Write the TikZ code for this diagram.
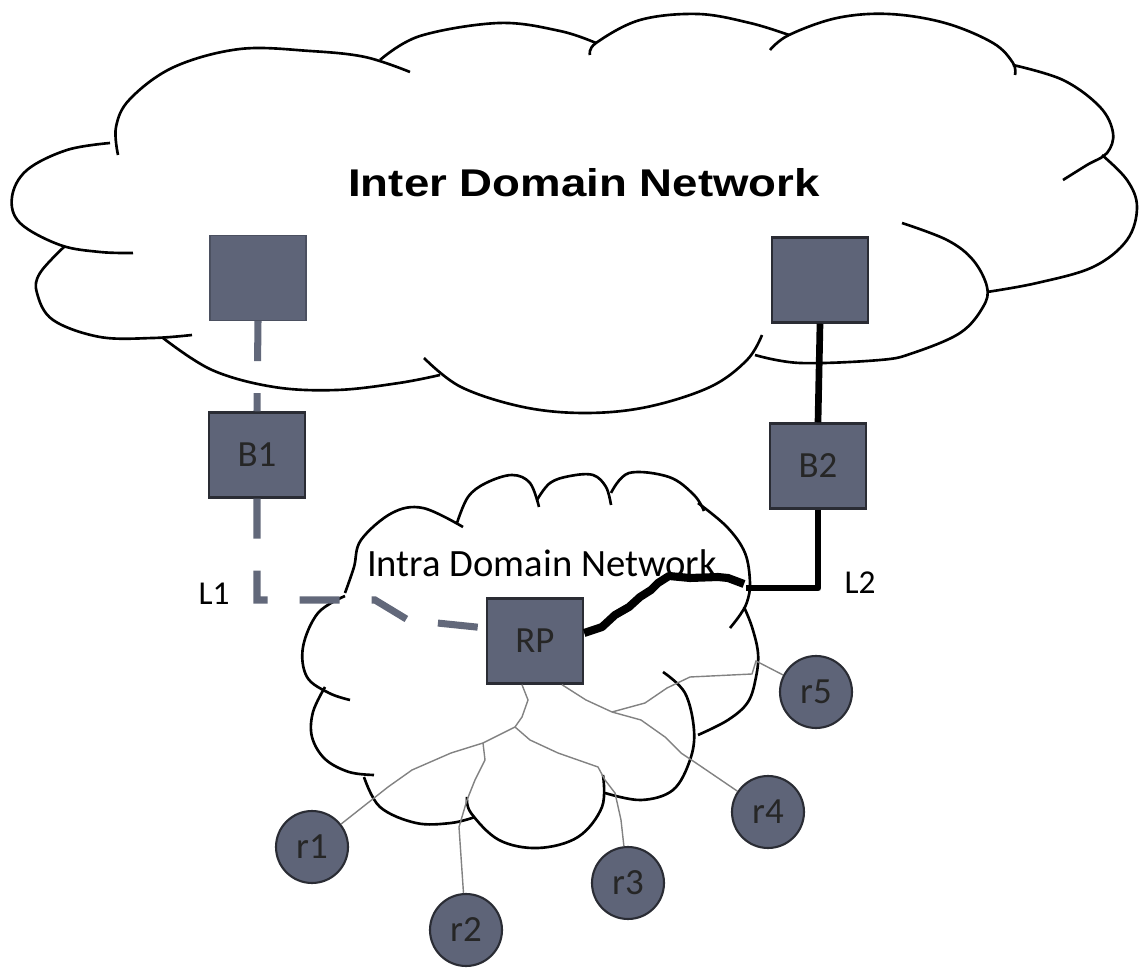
\documentclass[tikz,border=0pt]{standalone}
\usepackage{fontspec}
\setmainfont{Carlito}
\newfontfamily\interfont[FakeStretch=1.18]{Liberation Sans}
\usepackage{tikz}
\usetikzlibrary{arrows}
\usepackage{xcolor}
\definecolor{slate}{RGB}{94,100,120}
\definecolor{slateedge}{RGB}{42,44,52}
\definecolor{dashgray}{RGB}{98,104,122}
\definecolor{treegray}{RGB}{130,130,130}

\begin{document}
\begin{tikzpicture}[x=0.02cm,y=0.02cm]
	 \tikzstyle{router}=[rectangle,minimum width=1.92cm,minimum height=1.7cm,inner sep=0pt,fill=slate,draw=slateedge,line width=1.4pt,text=black!85,font=\fontsize{21}{25}\selectfont]
	 \tikzstyle{faded router}=[router,draw=slate!80!black,line width=0.8pt]
	 \tikzstyle{host}=[circle,minimum size=1.44cm,inner sep=0pt,fill=slate,draw=slateedge,line width=1.2pt,text=black!85,font=\fontsize{21}{25}\selectfont]
	 \tikzstyle{cloud line}=[draw,line width=1.5pt,black]
	 \tikzstyle{dashed link}=[draw,line width=4pt,dashgray,dash pattern=on 0.8cm off 0.64cm]
	 \tikzstyle{solid link}=[draw,line width=3.8pt,black,line join=round]
	 \tikzstyle{tree edge}=[draw,line width=0.8pt,treegray]
	 \tikzstyle{link label}=[font=\fontsize{19}{23}\selectfont]

	 \useasboundingbox (0,0) rectangle (1139,967);

	 % inter domain cloud
	 \draw[cloud line] plot[smooth,tension=0.6] coordinates {(118,812) (116,840) (130,868) (174,900) (240,918) (310,916) (365,910) (410,895)};
	 \draw[cloud line] plot[smooth,tension=0.6] coordinates {(380,907) (420,931) (499,944) (560,936) (596,924)};
	 \draw[cloud line] plot[smooth,tension=0.6] coordinates {(590,912) (596,924) (640,947) (698,953) (750,944) (789,932)};
	 \draw[cloud line] plot[smooth,tension=0.6] coordinates {(770,917) (789,932) (837,949) (889,953) (945,944) (993,924) (1013,904) (1015,892)};
	 \draw[cloud line] plot[smooth,tension=0.6] coordinates {(1013,902) (1063,887) (1100,860) (1113,834) (1107,814) (1087,802) (1063,787)};
	 \draw[cloud line] plot[smooth,tension=0.6] coordinates {(1102,812) (1127,787) (1137,760) (1127,727) (1093,700) (1037,684) (987,675)};
	 \draw[cloud line] plot[smooth,tension=0.6] coordinates {(902,744) (947,727) (973,707) (987,680) (983,660) (960,634) (913,614) (880,607) (800,604) (755,612)};
	 \draw[cloud line] plot[smooth,tension=0.6] coordinates {(424,609) (461,580) (523,560) (585,554) (647,560) (710,580) (747,607) (762,632)};
	 \draw[cloud line] plot[smooth,tension=0.6] coordinates {(163,629) (212,597) (274,580) (337,577) (399,584) (440,592)};
	 \draw[cloud line] plot[smooth,tension=0.6] coordinates {(65,721) (40,694) (37,674) (53,647) (100,630) (153,629) (192,632)};
	 \draw[cloud line] plot[smooth,tension=0.6] coordinates {(133,714) (100,715) (60,722) (20,744) (12,770) (27,797) (67,817) (110,824)};

	 % intra domain cloud
	 \draw[cloud line] plot[smooth,tension=0.6] coordinates {(345,374) (354,400) (361,427) (392,454) (423,459) (463,440)};
	 \draw[cloud line] plot[smooth,tension=0.6] coordinates {(457,444) (468,470) (486,484) (512,492) (530,484) (539,460)};
	 \draw[cloud line] plot[smooth,tension=0.6] coordinates {(537,467) (550,484) (570,491) (593,492) (606,480) (611,462)};
	 \draw[cloud line] plot[smooth,tension=0.6] coordinates {(611,474) (629,494) (669,490) (694,472) (704,456)};
	 \draw[cloud line] plot[smooth,tension=0.6] coordinates {(698,464) (727,440) (745,414) (750,384) (747,365) (740,352) (730,339)};
	 \draw[cloud line] plot[smooth,tension=0.6] coordinates {(744,360) (752,340) (758,314) (756,290) (748,265) (728,247) (698,232)};
	 \draw[cloud line] plot[smooth,tension=0.6] coordinates {(663,295) (685,274) (694,237) (690,207) (673,177) (641,167) (605,174)};
	 \draw[cloud line] plot[smooth,tension=0.6] coordinates {(603,192) (602,160) (578,130) (538,119) (499,127) (471,154) (467,170)};
	 \draw[cloud line] plot[smooth,tension=0.6] coordinates {(475,150) (451,144) (416,144) (380,160) (364,190)};
	 \draw[cloud line] plot[smooth,tension=0.6] coordinates {(374,192) (349,195) (325,208) (312,230) (313,255) (325,280)};
	 \draw[cloud line] plot[smooth,tension=0.6] coordinates {(350,267) (329,274) (307,290) (303,320) (318,354) (345,371)};

	 \node[font=\interfont\bfseries\fontsize{22}{26}\selectfont] (inter) at (584,784) {Inter Domain Network};
	 \node[font=\fontsize{22}{26}\selectfont] (intra) at (542,404) {Intra Domain Network};

	 \node[faded router] (gw1) at (258,689) {};
	 \node[router] (gw2) at (820,687) {};
	 \node[router] (b1) at (257,512) {B1};
	 \node[router] (b2) at (818,501) {B2};
	 \node[router] (rp) at (535,326) {RP};

	 \node[host] (r1) at (312,120) {r1};
	 \node[host] (r2) at (466,37) {r2};
	 \node[host] (r3) at (628,84) {r3};
	 \node[host] (r4) at (768,155) {r4};
	 \node[host] (r5) at (816,275) {r5};

	 \node[link label] (l1text) at (214,373) {L1};
	 \node[link label] (l2text) at (860,384) {L2};

	 \coordinate (l1) at (257,367);
	 \coordinate (l2) at (818,379);
	 \coordinate (j1) at (515,240);
	 \coordinate (j2) at (483,224);
	 \coordinate (j3) at (612,255);

	 % links to the border routers
	 \draw[dashed link] (gw1.south) -- (b1.north);
	 \draw[dashed link] (b1.south) -- (l1) -- (375,367) -- (408,347) -- ([yshift=0.26cm]rp.west);
	 \draw[solid link] (gw2.south) -- (b2.north);
	 \draw[solid link] (b2.south) -- (l2) -- (746,379);
	 \draw[solid link,line width=4.6pt] (744,383) -- (728,389) -- (718,390) -- (690,389) -- (669,391) -- (658,384) -- (651,377) -- (640,370) -- (629,360) -- (615,352) -- (602,340) -- ([yshift=0.16cm]rp.east);

	 % shared tree inside the domain
	 \draw[tree edge] ([xshift=-0.26cm]rp.south) -- (528,267) -- (522,250) -- (j1) -- (j2) -- (451,214) -- (412,197) -- (388,180) -- (r1);
	 \draw[tree edge] (j2) -- (485,207) -- (475,187) -- (467,167) -- (459,140) -- (r2);
	 \draw[tree edge] (j1) -- (530,227) -- (558,214) -- (598,200) -- (605,187) -- (615,174) -- (621,147) -- (r3);
	 \draw[tree edge] ([xshift=0.54cm]rp.south) -- (586,267) -- (j3) -- (641,247) -- (665,230) -- (681,214) -- (696,204) -- (r4);
	 \draw[tree edge] (j3) -- (645,264) -- (667,279) -- (690,290) -- (752,293) -- (756,306) -- (r5);
\end{tikzpicture}
\end{document}
